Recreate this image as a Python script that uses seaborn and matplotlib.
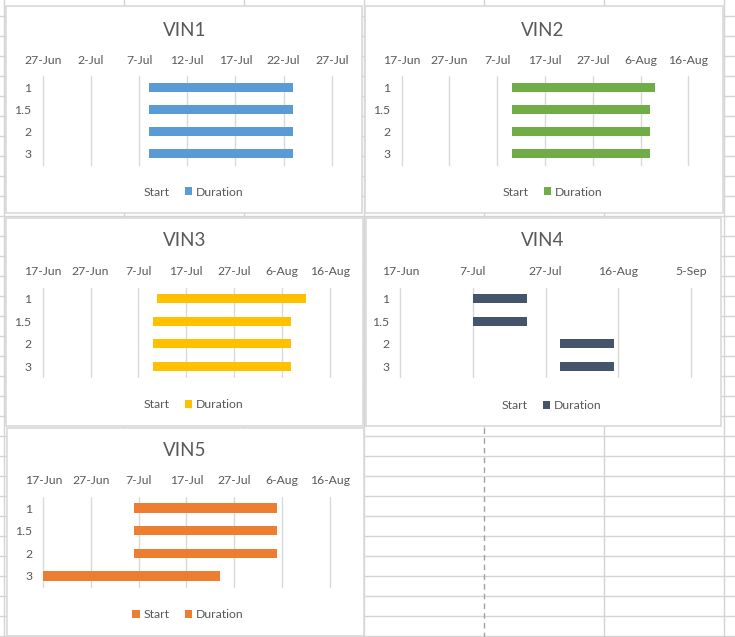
import datetime as dt
import matplotlib
matplotlib.use("Agg")
import matplotlib.pyplot as plt
import matplotlib.dates as mdates
from matplotlib.patches import Rectangle, Patch
import pandas as pd
import seaborn as sns

YEAR = 2018
categories = ["1", "1.5", "2", "3"]

vin1_start = ["8-Jul", "8-Jul", "8-Jul", "8-Jul"]
vin1_duration = [15, 15, 15, 15]
vin1_ticks = ["27-Jun", "2-Jul", "7-Jul", "12-Jul", "17-Jul", "22-Jul", "27-Jul"]

vin2_start = ["10-Jul", "10-Jul", "10-Jul", "10-Jul"]
vin2_duration = [30, 29, 29, 29]
vin2_ticks = ["17-Jun", "27-Jun", "7-Jul", "17-Jul", "27-Jul", "6-Aug", "16-Aug"]

vin3_start = ["11-Jul", "10-Jul", "10-Jul", "10-Jul"]
vin3_duration = [31, 29, 29, 29]
vin3_ticks = ["17-Jun", "27-Jun", "7-Jul", "17-Jul", "27-Jul", "6-Aug", "16-Aug"]

vin4_start = ["7-Jul", "7-Jul", "31-Jul", "31-Jul"]
vin4_duration = [15, 15, 15, 15]
vin4_ticks = ["17-Jun", "7-Jul", "27-Jul", "16-Aug", "5-Sep"]

vin5_start = ["6-Jul", "6-Jul", "6-Jul", "17-Jun"]
vin5_duration = [30, 30, 30, 37]
vin5_ticks = ["17-Jun", "27-Jun", "7-Jul", "17-Jul", "27-Jul", "6-Aug", "16-Aug"]

titles = ["VIN1", "VIN2", "VIN3", "VIN4", "VIN5"]
series_names = ["Start", "Duration"]

# ---- layout / style (pixels) ----
W, H = 735, 637
colors = ["#5B9BD5", "#70AD47", "#FFC000", "#44546A", "#ED7D31"]
start_filled = [False, False, False, False, True]
boxes = [(6, 6, 362.5, 213), (365, 6, 723, 213), (6, 218, 363, 425.5),
         (366, 218, 721.5, 425.5), (7, 428, 364, 635.5)]
plot_areas = [(42.7, 76, 331.7, 165), (401.7, 76, 688.3, 165),
              (42.7, 287.7, 329.7, 377.3), (400.3, 287.7, 690.7, 377.3),
              (43.3, 496.7, 329.7, 587.3)]
title_pos = [(184.3, 30), (543, 30), (184.3, 241), (542.3, 241), (185, 451)]
legend_pos = [(188, 192), (547, 192), (188, 404.5), (546, 405.5), (188, 614.5)]

TEXT = "#595959"
GRID = "#D9D9D9"
SHEET = "#D4D4D4"

sns.set_theme(style="white")
plt.rcParams["font.family"] = ["Lato", "DejaVu Sans"]


def to_num(s):
    return mdates.date2num(dt.datetime.strptime(f"{s}-{YEAR}", "%d-%b-%Y"))


fig = plt.figure(figsize=(W / 100, H / 100), dpi=100)
fig.patch.set_facecolor("white")

bg = fig.add_axes([0, 0, 1, 1])
bg.set_xlim(0, W)
bg.set_ylim(H, 0)
bg.axis("off")
for y in range(16, H, 20):
    bg.plot([0, W], [y, y], color=SHEET, lw=1, zorder=1)
for x in [4, 124, 244, 364, 604, 724]:
    bg.plot([x, x], [0, H], color=SHEET, lw=1, zorder=1)
bg.plot([484, 484], [0, 428], color=SHEET, lw=1, zorder=1)
bg.plot([484, 484], [428, H], color="#A0A0A0", lw=1, ls=(0, (4, 3)), zorder=1.5)
for (x0, y0, x1, y1) in boxes:
    bg.add_patch(Rectangle((x0, y0), x1 - x0, y1 - y0, facecolor="white",
                           edgecolor=GRID, lw=1.2, zorder=3))

data = [
    (vin1_start, vin1_duration, vin1_ticks),
    (vin2_start, vin2_duration, vin2_ticks),
    (vin3_start, vin3_duration, vin3_ticks),
    (vin4_start, vin4_duration, vin4_ticks),
    (vin5_start, vin5_duration, vin5_ticks),
]

for i, (starts, durs, ticks) in enumerate(data):
    x0, y0, x1, y1 = plot_areas[i]
    ax = fig.add_axes([x0 / W, 1 - y1 / H, (x1 - x0) / W, (y1 - y0) / H])
    ax.set_facecolor("none")
    df = pd.DataFrame({"Row": categories,
                       "Start": [to_num(s) for s in starts],
                       "Duration": durs})
    sns.barplot(data=df, y="Row", x="Duration", order=categories, orient="h",
                color=colors[i], saturation=1, width=0.41, errorbar=None,
                linewidth=0, ax=ax, zorder=3)
    for patch, s in zip(ax.patches, df["Start"]):
        patch.set_x(s)
    tnum = [to_num(t) for t in ticks]
    ax.set_xlim(tnum[0], tnum[-1])
    ax.set_ylim(3.5, -0.5)
    ax.set_xticks(tnum)
    ax.set_xticklabels(ticks)
    ax.xaxis.tick_top()
    ax.grid(True, axis="x", color=GRID, lw=1)
    ax.grid(False, axis="y")
    ax.set_axisbelow(True)
    for sp in ax.spines.values():
        sp.set_visible(False)
    ax.tick_params(length=0, labelsize=8.8, colors=TEXT)
    ax.tick_params(axis="x", pad=7.5)
    ax.tick_params(axis="y", pad=8)
    ax.set_xlabel("")
    ax.set_ylabel("")
    for gl in ax.get_xgridlines():
        gl.set_clip_on(False)

    tx, ty = title_pos[i]
    fig.text(tx / W, 1 - ty / H, titles[i], ha="center", va="center",
             fontsize=13.5, color=TEXT)

    handles = [
        Patch(facecolor=colors[i] if start_filled[i] else "none",
              edgecolor="none", label=series_names[0]),
        Patch(facecolor=colors[i], edgecolor="none", label=series_names[1]),
    ]
    lx, ly = legend_pos[i]
    fig.legend(handles=handles, loc="center", bbox_to_anchor=(lx / W, 1 - ly / H),
               ncol=2, frameon=False, fontsize=8.8, handlelength=0.6,
               handleheight=0.6, handletextpad=0.35, columnspacing=1.2,
               labelcolor=TEXT, borderpad=0)

fig.savefig("out.png", dpi=100, facecolor="white")
